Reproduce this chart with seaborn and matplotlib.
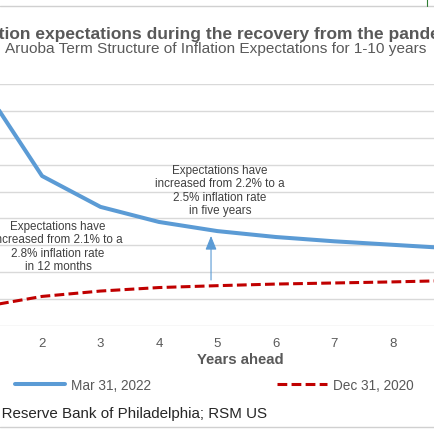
import numpy as np
import pandas as pd
import matplotlib
matplotlib.use("Agg")
import matplotlib.pyplot as plt
from matplotlib.lines import Line2D
import seaborn as sns

# Aruoba term structure (years ahead 1-10)
years = [1, 2, 3, 4, 5, 6, 7, 8, 9, 10]
mar_2022 = [2.889, 2.558, 2.443, 2.387, 2.353, 2.331, 2.315, 2.302, 2.289, 2.279]
dec_2020 = [2.072, 2.110, 2.130, 2.143, 2.150, 2.156, 2.160, 2.164, 2.169, 2.173]
# only these category labels fall inside the cropped picture
shown_ticks = [2, 3, 4, 5, 6, 7, 8]
series_names = ["Mar 31, 2022", "Dec 31, 2020"]

title = "Inflation expectations during the recovery from the pandemic"
subtitle = "Aruoba Term Structure of Inflation Expectations for 1-10 years"
note_1yr = "Expectations have\nincreased from 2.1% to a\n2.8% inflation rate\nin 12 months"
note_5yr = "Expectations have\nincreased from 2.2% to a\n2.5% inflation rate\nin five years"
source = "Source: Federal Reserve Bank of Philadelphia; RSM US"

df = pd.DataFrame({"years": years, "mar": mar_2022, "dec": dec_2020})

sns.set_style("white")
plt.rcParams["font.family"] = ["Liberation Sans", "DejaVu Sans"]

BLUE = "#5B9BD5"
RED = "#C00000"
GRAY = "#595959"
GRID = "#D9D9D9"

W = H = 435
def fx(px):
    return px / W
def fy(py):
    return 1 - py / H

fig = plt.figure(figsize=(4.35, 4.35), dpi=100)
# the picture is a crop, so the plot area runs past both edges
ax = fig.add_axes([fx(-45.6), fy(327), 584.3 / W, 242 / H])

sns.lineplot(data=df, x="years", y="mar", ax=ax, color=BLUE, linewidth=2.9,
             label=series_names[0], legend=False)
sns.lineplot(data=df, x="years", y="dec", ax=ax, color=RED, linewidth=2.2,
             label=series_names[1], legend=False)
ax.lines[1].set_dashes((3.2, 1.4))
ax.lines[1].set_dash_capstyle("butt")

ax.set_xlim(0.5, 10.5)
ax.set_ylim(2.0, 2.9)
ax.set_yticks(np.arange(2.0, 2.95, 0.1))
ax.set_xticks(shown_ticks)
ax.set_xticklabels([str(t) for t in shown_ticks])
ax.yaxis.grid(True, color=GRID, linewidth=1.0)
ax.xaxis.grid(False)
for s in ["left", "right", "top", "bottom"]:
    ax.spines[s].set_visible(False)
ax.tick_params(axis="x", length=0, pad=8, labelsize=9.5, labelcolor=GRAY)
ax.tick_params(axis="y", length=0, labelleft=False)
ax.set_ylabel("")
ax.set_xlabel("Years ahead", fontsize=10.7, fontweight="bold", color=GRAY)
ax.xaxis.set_label_coords((240 + 45.6) / 584.3, (327 - 360) / 242)
ax.xaxis.label.set_va("center")

# arrow pointing at the 5-year point
ax.annotate("", xy=(4.892, 2.335), xytext=(4.892, 2.171),
            arrowprops=dict(arrowstyle="-|>,head_length=0.84,head_width=0.34",
                            color=BLUE, lw=0.8, shrinkA=0, shrinkB=0,
                            mutation_scale=10))

fig.text(fx(58), fy(247), note_1yr, ha="center", va="center", fontsize=8.4,
         color="#404040", linespacing=1.15)
fig.text(fx(220), fy(191), note_5yr, ha="center", va="center", fontsize=8.4,
         color="#404040", linespacing=1.15)

fig.text(fx(216), fy(34), title, ha="center", va="center", fontsize=12.5,
         fontweight="bold", color=GRAY)
fig.text(fx(216), fy(49.5), subtitle, ha="center", va="center", fontsize=11.1,
         color=GRAY)
fig.text(fx(267), fy(414), source, ha="right", va="center", fontsize=10.9,
         color="#262626")

fig.legend(handles=ax.lines[:2], labels=series_names, loc="center left",
           bbox_to_anchor=(fx(15), fy(386)), ncol=2, frameon=False,
           fontsize=9.8, labelcolor=GRAY, handlelength=3.68,
           handletextpad=0.44, columnspacing=9.26, borderpad=0,
           borderaxespad=0)

# frame lines of the original slide
fig.add_artist(Line2D([0, 1], [fy(7), fy(7)], color="#D0D0D0", lw=1.0))
fig.add_artist(Line2D([0, 1], [fy(428), fy(428)], color="#D0D0D0", lw=1.0))
fig.add_artist(Line2D([fx(427), fx(427)], [fy(0), fy(7)], color="#2E7D32", lw=0.8))

fig.savefig("out.png", dpi=100)
